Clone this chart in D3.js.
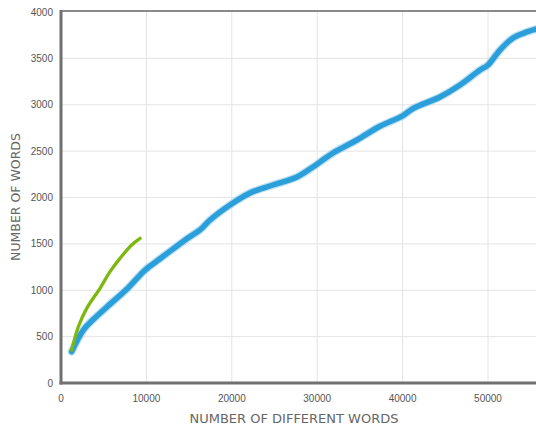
<!DOCTYPE html>
<html>
<head>
<meta charset="utf-8">
<script src="https://cdn.jsdelivr.net/npm/d3@7"></script>
<style>
  html, body { margin: 0; padding: 0; background: #fff; overflow: hidden; }
  svg { display: block; font-family: "DejaVu Sans", "Open Sans", sans-serif; }
</style>
</head>
<body>
<svg id="chart" width="536" height="429"></svg>
<script>
// Vocabulary growth: total words vs. distinct words
const xTicks = [0, 10000, 20000, 30000, 40000, 50000];
const yTicks = [0, 500, 1000, 1500, 2000, 2500, 3000, 3500, 4000];

const blueX = [1250, 2610, 3780, 5740, 7690, 9640, 10420, 11590, 13740, 14900, 16280, 17450, 19790, 22130, 24820, 27630, 29500, 30330, 31850, 34660, 37240, 40000, 41260, 44380, 46720, 49060, 50000, 51400, 52930, 54570, 55500, 56500];
const blueY = [338, 571, 685, 850, 1010, 1200, 1260, 1340, 1488, 1565, 1650, 1757, 1919, 2049, 2135, 2221, 2329, 2383, 2480, 2620, 2763, 2880, 2961, 3084, 3213, 3375, 3429, 3590, 3720, 3785, 3812, 3830];

const greenX = [1250, 2030, 3010, 4570, 5740, 6910, 8270, 9250];
const greenY = [356, 607, 805, 1021, 1200, 1344, 1488, 1560];

const svg = d3.select("#chart");
const plotLeft = 61, plotTop = 12, plotBottom = 383;

const x = d3.scaleLinear().domain([0, 60000]).range([plotLeft, plotLeft + 6 * 85.4]);
const y = d3.scaleLinear().domain([0, 4000]).range([plotBottom, plotTop]);
const plotRight = 540;

// Gridlines
svg.append("g").selectAll("line").data(xTicks.slice(1)).join("line")
  .attr("x1", d => x(d)).attr("x2", d => x(d))
  .attr("y1", plotTop).attr("y2", plotBottom)
  .attr("stroke", "#e4e4e4").attr("stroke-width", 1);
svg.append("g").selectAll("line").data(yTicks.slice(1, -1)).join("line")
  .attr("x1", plotLeft).attr("x2", plotRight)
  .attr("y1", d => y(d)).attr("y2", d => y(d))
  .attr("stroke", "#e4e4e4").attr("stroke-width", 1);

// Top border
svg.append("line").attr("x1", plotLeft).attr("x2", plotRight)
  .attr("y1", 11).attr("y2", 11).attr("stroke", "#8a8a8a").attr("stroke-width", 2);

// Lines
const defs = svg.append("defs");
defs.append("filter").attr("id", "soft").attr("x", "-5%").attr("y", "-5%").attr("width", "110%").attr("height", "110%")
  .append("feGaussianBlur").attr("stdDeviation", 0.7);

const line = d3.line().curve(d3.curveCatmullRom.alpha(0.5));
const bluePts = blueX.map((v, i) => [x(v), y(blueY[i])]);
const greenPts = greenX.map((v, i) => [x(v), y(greenY[i])]);

svg.append("path").attr("d", line(bluePts))
  .attr("fill", "none").attr("stroke", "#8fcbea").attr("stroke-width", 8)
  .attr("stroke-linecap", "round").attr("stroke-linejoin", "round")
  .attr("filter", "url(#soft)").attr("opacity", 0.6);
svg.append("path").attr("d", line(bluePts))
  .attr("fill", "none").attr("stroke", "#2c9fd9").attr("stroke-width", 5.5)
  .attr("stroke-linecap", "round").attr("stroke-linejoin", "round")
  .attr("filter", "url(#soft)");

svg.append("path").attr("d", line(greenPts))
  .attr("fill", "none").attr("stroke", "#7cb80e").attr("stroke-width", 3.3)
  .attr("stroke-linecap", "round").attr("stroke-linejoin", "round")
  .attr("filter", "url(#soft)");

// Axes
svg.append("line").attr("x1", plotLeft).attr("x2", plotLeft)
  .attr("y1", 10).attr("y2", plotBottom + 1.5).attr("stroke", "#707070").attr("stroke-width", 3);
svg.append("line").attr("x1", plotLeft - 1.5).attr("x2", plotRight)
  .attr("y1", plotBottom).attr("y2", plotBottom).attr("stroke", "#707070").attr("stroke-width", 3);

// Tick labels
svg.append("g").selectAll("text").data(yTicks).join("text")
  .attr("x", 53).attr("y", d => y(d) + 3.5)
  .attr("text-anchor", "end").attr("font-size", 10).attr("fill", "#555")
  .attr("font-family", "'Liberation Sans', Arial, sans-serif")
  .text(d => d);
svg.append("g").selectAll("text").data(xTicks).join("text")
  .attr("x", d => x(d)).attr("y", 402)
  .attr("text-anchor", "middle").attr("font-size", 10).attr("fill", "#555")
  .attr("font-family", "'Liberation Sans', Arial, sans-serif")
  .text(d => d);

// Axis titles
svg.append("text").attr("x", 294).attr("y", 423)
  .attr("text-anchor", "middle").attr("font-size", 13).attr("fill", "#666")
  .text("NUMBER OF DIFFERENT WORDS");
svg.append("text").attr("transform", "translate(20,197) rotate(-90)")
  .attr("text-anchor", "middle").attr("font-size", 12.5).attr("fill", "#666")
  .text("NUMBER OF WORDS");
</script>
</body>
</html>
